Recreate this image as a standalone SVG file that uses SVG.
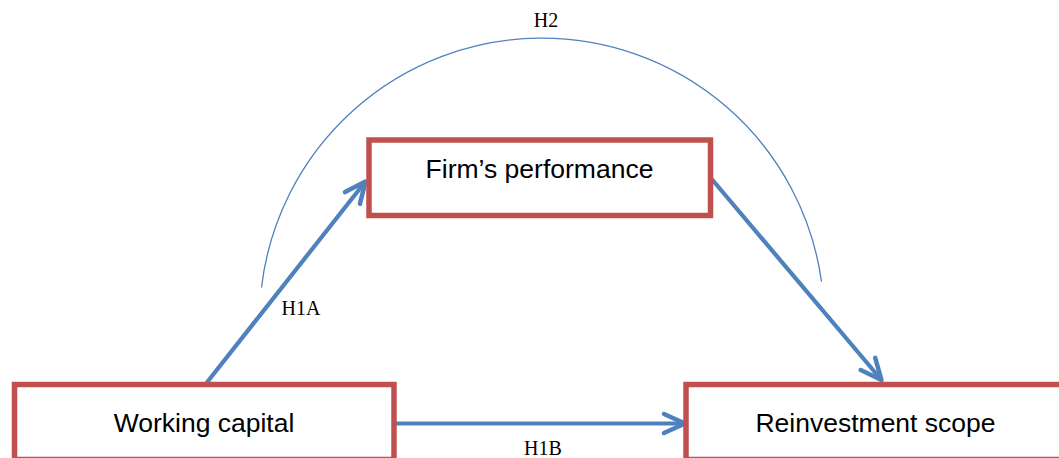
<svg xmlns="http://www.w3.org/2000/svg" width="1059" height="458" viewBox="0 0 1059 458">
<style>
.box{fill:#ffffff;stroke:#c0504d;stroke-width:5.5}
.lbl{font-family:"Liberation Sans",Arial,sans-serif;font-size:26.5px;fill:#000;text-anchor:middle}
.hyp{font-family:"Liberation Serif","Times New Roman",serif;font-size:20px;fill:#000;text-anchor:middle}
.arr{fill:none;stroke:#4f81bd;stroke-width:4.2;marker-end:url(#ah)}
.arc{fill:none;stroke:#4f81bd;stroke-width:1.3}
</style>
<defs>
<marker id="ah" markerUnits="userSpaceOnUse" viewBox="-26 -13 30 26" refX="0" refY="0" markerWidth="30" markerHeight="26" orient="auto" overflow="visible">
<path d="M -21 -9.5 L 0 0 L -21 9.5" fill="none" stroke="#4f81bd" stroke-width="4.5" stroke-linecap="round" stroke-linejoin="round"/>
</marker>
</defs>
<rect width="1059" height="458" fill="#ffffff"/>
<g id="connectors">
<path class="arc" d="M 261.5 287.5 A 282.3 282.3 0 0 1 821.5 281.7"/>
<line class="arr" x1="206.7" y1="382.7" x2="365.5" y2="181.5"/>
<line class="arr" x1="711.7" y1="179" x2="881.5" y2="380"/>
<line class="arr" x1="396" y1="423.5" x2="685" y2="423.5"/>
<text class="hyp" x="546" y="27">H2</text>
<text class="hyp" x="301" y="315">H1A</text>
<text class="hyp" x="543" y="455">H1B</text>
</g>
<g id="node-firm">
<rect class="box" x="369" y="140" width="341.5" height="75.5"/>
<text class="lbl" x="539.5" y="178">Firm’s performance</text>
</g>
<g id="node-working">
<rect class="box" x="14.5" y="384.5" width="379.5" height="75"/>
<text class="lbl" x="204" y="432">Working capital</text>
</g>
<g id="node-reinvest">
<rect class="box" x="686" y="384.5" width="380" height="75"/>
<text class="lbl" x="875.5" y="432">Reinvestment scope</text>
</g>
</svg>
